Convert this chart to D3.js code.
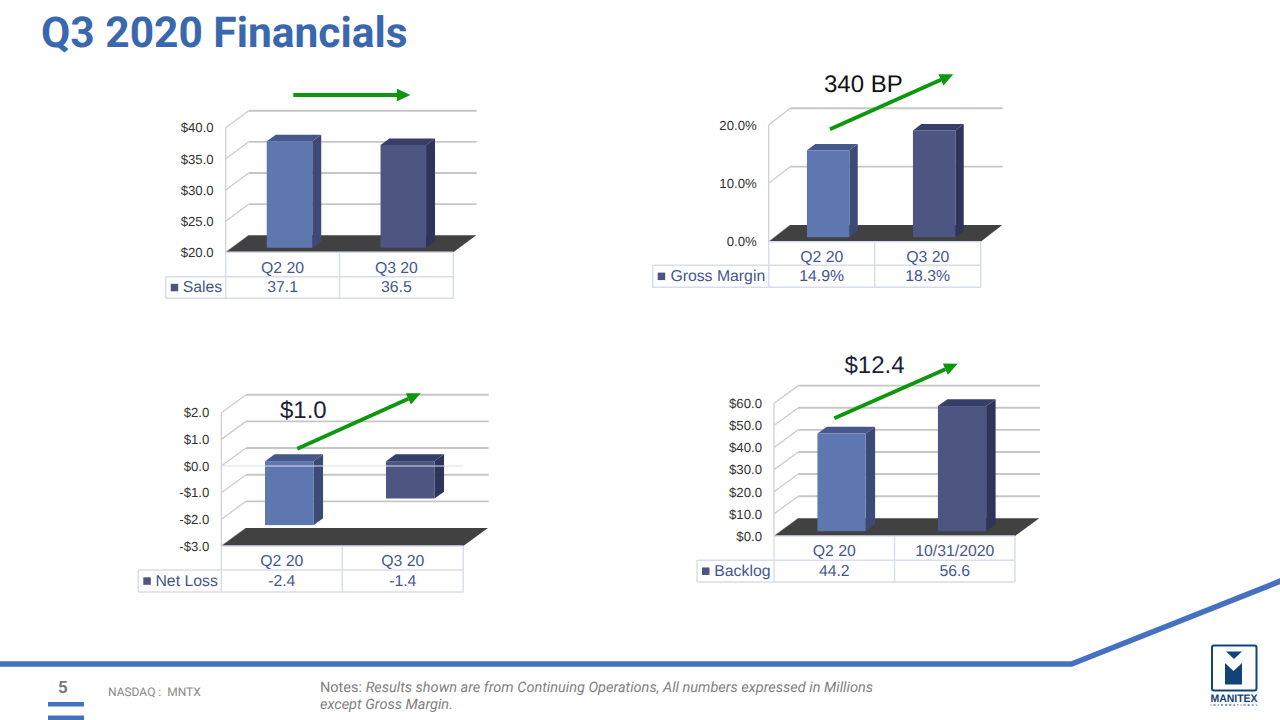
<!DOCTYPE html>
<html><head><meta charset="utf-8">
<script src="https://cdn.jsdelivr.net/npm/d3@7/dist/d3.min.js"></script>
<style>html,body{margin:0;padding:0;background:#fff;overflow:hidden}svg{display:block}text{text-rendering:geometricPrecision}</style>
</head><body><svg id="c" width="1280" height="720"></svg>
<script>
// ---- data ----
const salesCategories = ["Q2 20", "Q3 20"];
const salesValues = [37.1, 36.5];
const salesLabels = ["37.1", "36.5"];
const salesTicks = [20, 25, 30, 35, 40];

const marginCategories = ["Q2 20", "Q3 20"];
const marginValues = [14.9, 18.3];
const marginLabels = ["14.9%", "18.3%"];
const marginTicks = [0, 10, 20];

const lossCategories = ["Q2 20", "Q3 20"];
const lossValues = [-2.4, -1.4];
const lossLabels = ["-2.4", "-1.4"];
const lossTicks = [-3, -2, -1, 0, 1, 2];

const backlogCategories = ["Q2 20", "10/31/2020"];
const backlogValues = [44.2, 56.6];
const backlogLabels = ["44.2", "56.6"];
const backlogTicks = [0, 10, 20, 30, 40, 50, 60];

// ---- layout ----
const money = v => (v < 0 ? "-$" : "$") + Math.abs(v).toFixed(1);
const pct = v => v.toFixed(1) + "%";
const charts = [
  {name:"Sales", cats:salesCategories, vals:salesValues, labels:salesLabels, ticks:salesTicks, fmt:money,
   domain:[20,40], left:225.7, right:453.3, base:252.3, top:127.7, dx:23, dy:17, endX:476.7,
   row1:276.7, row2:298.3, legendLeft:165.7, arrow:[293.3,95,410.5,95]},
  {name:"Gross Margin", cats:marginCategories, vals:marginValues, labels:marginLabels, ticks:marginTicks, fmt:pct,
   domain:[0,20], left:768.7, right:980.7, base:241.7, top:125, dx:21.5, dy:16.7, endX:1002.7,
   row1:265.3, row2:287.3, legendLeft:652.7, arrow:[830,129.3,953.3,74.3],
   note:"340 BP", noteX:824, noteY:92, noteColor:"#111111"},
  {name:"Net Loss", cats:lossCategories, vals:lossValues, labels:lossLabels, ticks:lossTicks, fmt:money,
   domain:[-3,2], left:221.3, right:463.3, base:546, top:412.7, dx:24.7, dy:18, endX:488.7,
   row1:570, row2:592, legendLeft:138.3, arrow:[297.3,448.7,420.7,393.3], zero:true,
   note:"$1.0", noteX:280, noteY:418, noteColor:"#1a2238"},
  {name:"Backlog", cats:backlogCategories, vals:backlogValues, labels:backlogLabels, ticks:backlogTicks, fmt:money,
   domain:[0,60], left:774, right:1015, base:536, top:403.3, dx:24.3, dy:17.7, endX:1040,
   row1:560.3, row2:582, legendLeft:697, arrow:[834.3,418.3,957.7,363.7],
   note:"$12.4", noteX:844.5, noteY:373, noteColor:"#1a2238"}
];
const barFill = [
  {front:"#5F77B0", side:"#3D4A75", top:"#465889"},
  {front:"#4C5680", side:"#2E3558", top:"#363F68"}
];
const ARIAL = "'Liberation Sans', Arial, sans-serif";
const TABLE_TEXT = "#44568F", TABLE_LINE = "#D6DDEC", GREEN = "#0C970C", BLUE = "#4472C0";

const svg = d3.select("#c");
const poly = pts => pts.map(p => p.join(",")).join(" ");

charts.forEach(c => {
  const g = svg.append("g");
  const y = d3.scaleLinear().domain(c.domain).range([c.base, c.top]);
  const x = d3.scaleBand().domain(c.cats).range([c.left, c.right]).paddingInner(0.6).paddingOuter(0.3);
  const step = x.step();

  // side wall and back wall gridlines
  c.ticks.forEach(t => {
    const yy = y(t);
    if (t !== c.domain[0]) {
      g.append("line").attr("x1", c.left + c.dx).attr("x2", c.endX)
        .attr("y1", yy - c.dy).attr("y2", yy - c.dy)
        .attr("stroke", "#C6C6C6").attr("stroke-width", 1.9);
    }
    g.append("line").attr("x1", c.left).attr("x2", c.left + c.dx)
      .attr("y1", yy).attr("y2", yy - c.dy)
      .attr("stroke", "#CCCCCC").attr("stroke-width", 1.3);
  });
  g.append("line").attr("x1", c.left).attr("x2", c.left)
    .attr("y1", c.base).attr("y2", c.top).attr("stroke", "#CCCCCC").attr("stroke-width", 1.2);

  // floor
  g.append("polygon").attr("fill", "#414141").attr("points", poly([
    [c.left, c.base], [c.right, c.base], [c.right + c.dx, c.base - c.dy], [c.left + c.dx, c.base - c.dy]
  ]));

  // 3D bars
  const offX = c.dx * 0.3, offY = c.dy * 0.27, dX = c.dx * 0.39, dY = c.dy * 0.38;
  const baseVal = c.domain[0] > 0 ? c.domain[0] : 0;
  const bars = g.selectAll("g.bar").data(c.vals).join("g").attr("class", "bar");
  bars.each(function(v, i) {
    const b = d3.select(this), col = barFill[i];
    const x0 = x(c.cats[i]) + offX, w = x.bandwidth();
    const yA = y(Math.max(v, baseVal)) - offY, yB = y(Math.min(v, baseVal)) - offY;
    b.append("polygon").attr("fill", col.side).attr("points", poly([
      [x0 + w, yA], [x0 + w + dX, yA - dY], [x0 + w + dX, yB - dY], [x0 + w, yB]]));
    b.append("polygon").attr("fill", col.top).attr("points", poly([
      [x0, yA], [x0 + dX, yA - dY], [x0 + w + dX, yA - dY], [x0 + w, yA]]));
    b.append("rect").attr("x", x0).attr("y", yA).attr("width", w).attr("height", yB - yA).attr("fill", col.front);
  });

  if (c.zero) {
    g.append("line").attr("x1", c.left).attr("x2", c.right).attr("y1", y(0)).attr("y2", y(0))
      .attr("stroke", "#D6DDEC").attr("stroke-width", 1.2);
  }

  // value axis
  const ax = g.append("g").attr("transform", `translate(${c.left},0)`)
    .call(d3.axisLeft(y).tickValues(c.ticks).tickFormat(c.fmt).tickSize(0).tickPadding(12));
  ax.select(".domain").remove();
  ax.selectAll("text").attr("font-family", ARIAL).attr("font-size", 13.2).attr("fill", "#333333");

  // data table
  const mid = x(c.cats[0]) - step * 0.3 + step;
  const line = (x1, y1, x2, y2) => g.append("line").attr("x1", x1).attr("y1", y1).attr("x2", x2).attr("y2", y2)
    .attr("stroke", TABLE_LINE).attr("stroke-width", 1.4);
  line(c.left, c.base, c.right, c.base);
  line(c.legendLeft, c.row1, c.right, c.row1);
  line(c.legendLeft, c.row2, c.right, c.row2);
  line(c.left, c.base, c.left, c.row2);
  line(mid, c.base, mid, c.row2);
  line(c.right, c.base, c.right, c.row2);
  line(c.legendLeft, c.row1, c.legendLeft, c.row2);
  const txt = (s, tx, ty, anchor) => g.append("text").text(s).attr("x", tx).attr("y", ty)
    .attr("text-anchor", anchor).attr("dominant-baseline", "central")
    .attr("font-family", ARIAL).attr("font-size", 15.8).attr("fill", TABLE_TEXT);
  c.cats.forEach((cat, i) => {
    const cx = x(cat) + x.bandwidth() / 2;
    txt(cat, cx, (c.base + c.row1) / 2 + 3.5, "middle");
    txt(c.labels[i], cx, (c.row1 + c.row2) / 2, "middle");
  });
  g.append("rect").attr("x", c.legendLeft + 5).attr("y", (c.row1 + c.row2) / 2 - 3.7)
    .attr("width", 7.5).attr("height", 7.5).attr("fill", barFill[1].front);
  txt(c.name, c.left - 3.5, (c.row1 + c.row2) / 2, "end");

  // change arrow
  const [ax1, ay1, ax2, ay2] = c.arrow;
  const ang = Math.atan2(ay2 - ay1, ax2 - ax1), L = 13.5, H = 6.2;
  const bx = ax2 - L * Math.cos(ang), by = ay2 - L * Math.sin(ang);
  g.append("line").attr("x1", ax1).attr("y1", ay1).attr("x2", bx).attr("y2", by)
    .attr("stroke", GREEN).attr("stroke-width", 3.8);
  g.append("polygon").attr("fill", GREEN).attr("points", poly([
    [ax2, ay2],
    [bx - H * Math.sin(ang), by + H * Math.cos(ang)],
    [bx + H * Math.sin(ang), by - H * Math.cos(ang)]
  ]));
  if (c.note) {
    g.append("text").text(c.note).attr("x", c.noteX).attr("y", c.noteY)
      .attr("font-family", ARIAL).attr("font-size", 24).attr("fill", c.noteColor);
  }
});

// title
svg.append("text").text("Q3 2020 Financials").attr("x", 41).attr("y", 47)
  .attr("font-family", "Roboto, sans-serif").attr("font-weight", 700).attr("font-size", 42.5).attr("fill", "#3A68AE");

// footer
svg.append("polyline").attr("fill", "none").attr("stroke", BLUE).attr("stroke-width", 5.5)
  .attr("points", poly([[0, 664], [1071.5, 664], [1282, 580.5]]));
svg.append("text").text("5").attr("x", 63).attr("y", 693).attr("text-anchor", "middle")
  .attr("font-family", "Roboto, sans-serif").attr("font-weight", 700).attr("font-size", 17).attr("fill", "#7a7a7a");
svg.append("rect").attr("x", 48).attr("y", 702).attr("width", 36).attr("height", 4.5).attr("fill", BLUE);
svg.append("rect").attr("x", 48).attr("y", 715.5).attr("width", 36).attr("height", 4.5).attr("fill", BLUE);
svg.append("text").text("NASDAQ :  MNTX").attr("x", 108).attr("y", 696).style("white-space", "pre")
  .attr("font-family", "Roboto, sans-serif").attr("font-size", 12).attr("fill", "#8a8a8a");
const n1 = svg.append("text").attr("x", 320).attr("y", 692)
  .attr("font-family", "Roboto, sans-serif").attr("font-size", 14.5).attr("fill", "#7f7f7f");
n1.append("tspan").text("Notes: ");
n1.append("tspan").attr("font-style", "italic").text("Results shown are from Continuing Operations, All numbers expressed in Millions");
svg.append("text").text("except Gross Margin.").attr("x", 320).attr("y", 709)
  .attr("font-family", "Roboto, sans-serif").attr("font-style", "italic").attr("font-size", 14.5).attr("fill", "#7f7f7f");

// logo
const NAVY = "#0F4478";
const logo = svg.append("g");
logo.append("rect").attr("x", 1212).attr("y", 645.5).attr("width", 44.5).attr("height", 45).attr("rx", 2)
  .attr("fill", "#fff").attr("stroke", NAVY).attr("stroke-width", 2);
logo.append("polygon").attr("fill", NAVY).attr("points", poly([[1226, 651.5], [1242, 651.5], [1234, 659]]));
logo.append("polygon").attr("fill", NAVY).attr("points", poly([[1225, 663], [1233.5, 671], [1242, 663], [1242, 684.5], [1225, 684.5]]));
logo.append("text").text("MANITEX").attr("x", 1234).attr("y", 701.5).attr("text-anchor", "middle")
  .attr("font-family", ARIAL).attr("font-weight", 700).attr("font-size", 11).attr("fill", NAVY)
  .attr("textLength", 47).attr("lengthAdjust", "spacingAndGlyphs");
logo.append("text").text("INTERNATIONAL").attr("x", 1234).attr("y", 705.5).attr("text-anchor", "middle")
  .attr("font-family", ARIAL).attr("font-weight", 700).attr("font-size", 3).attr("fill", NAVY)
  .attr("textLength", 47);
</script></body></html>
